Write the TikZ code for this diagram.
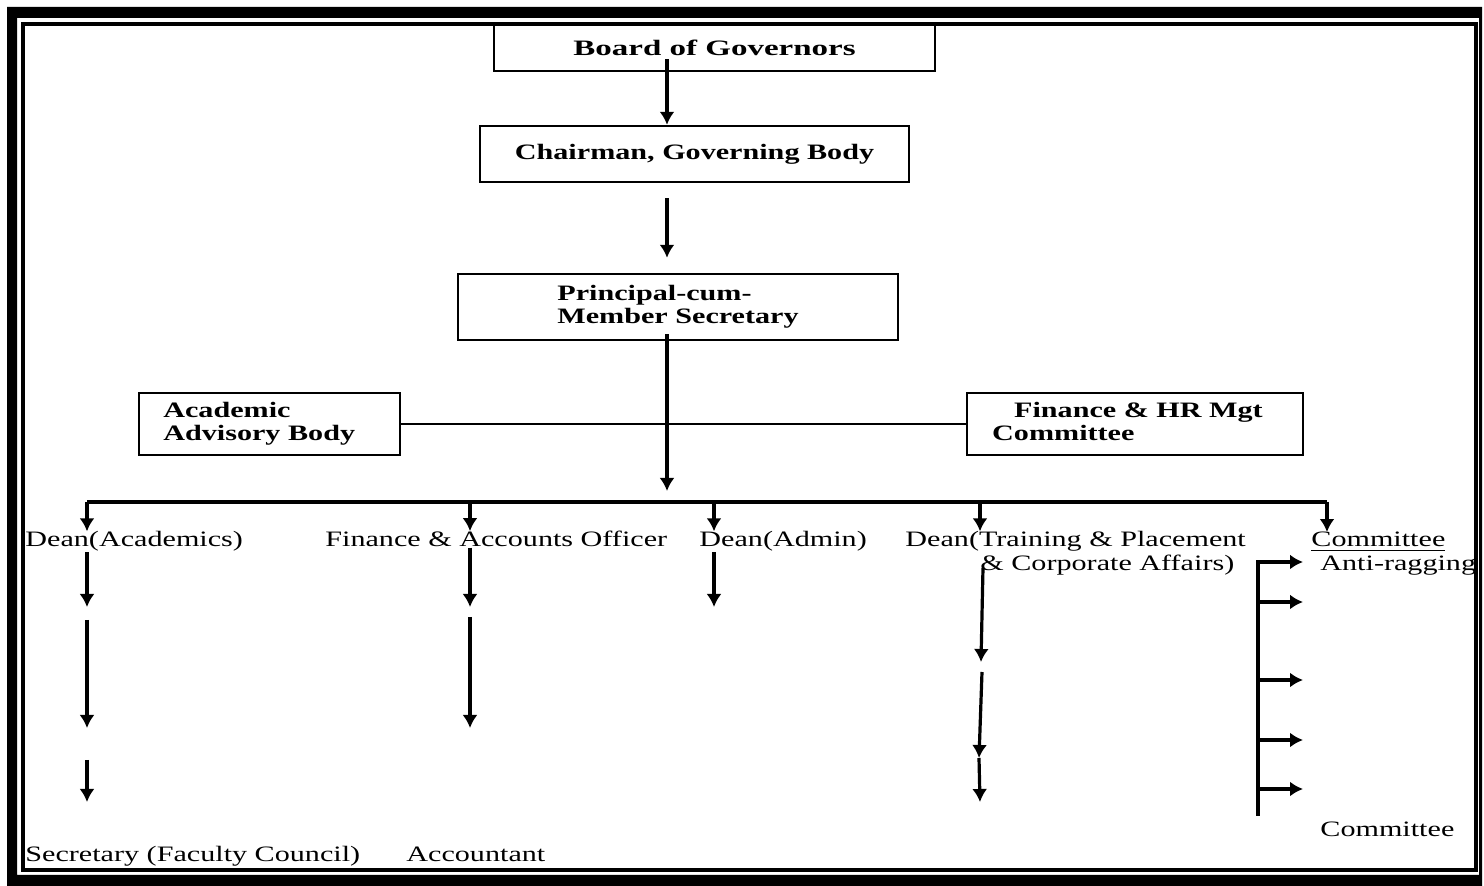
\documentclass[tikz,border=0pt]{standalone}
\usepackage{fontspec}
\setmainfont{Liberation Serif}
\usepackage{graphicx}
\usepackage{tikz}
\usetikzlibrary{arrows.meta,calc,positioning}
\newcommand\stretchx[2][1.37]{\scalebox{#1}[1]{#2}}
\tikzset{>={Latex[length=6.5pt,width=7.5pt]}}
\tikzset{
  box/.style={draw, line width=1.2pt, inner sep=0pt, font=\bfseries\fontsize{11}{11.5}\selectfont},
  lbl/.style={inner sep=0pt, anchor=base west, font=\fontsize{11}{12}\selectfont},
  arr/.style={->, line width=1.6pt},
  link/.style={line width=1.2pt}
}

\begin{document}
\begin{tikzpicture}[x=0.5pt,y=-0.5pt]
\useasboundingbox (0,0) rectangle (1484,886);

% frame
\fill[black, even odd rule] (7,7) rectangle (1482,886) (17,18) rectangle (1479,875);
\draw[line width=1.7pt] (23,24) rectangle (1476,870);

\coordinate (spine) at (667,0);

\node[box, minimum width=220.5pt, minimum height=23pt] (bog) at (714.5,48) {\stretchx[1.5]{Board of Governors}};
\node[box, minimum width=214.5pt, minimum height=28pt] (chair) at (694.5,154) {\stretchx{Chairman, Governing Body}};
\node[box, minimum width=220pt, minimum height=33pt] (prin) at (678,307) {\stretchx{\begin{tabular}{@{}l@{}}Principal-cum-\\Member Secretary\end{tabular}}};
\node[box, minimum width=130.5pt, minimum height=31pt] (aab) at (269.5,424) {\stretchx{\begin{tabular}{@{}l@{}}Academic\\Advisory Body\end{tabular}\hspace*{7.5pt}}};
\node[box, minimum width=168pt, minimum height=31pt] (fhr) at (1135,424) {\stretchx{\begin{tabular}{@{}l@{}}\hspace*{8pt}Finance \& HR Mgt\\Committee\end{tabular}\hspace*{5.5pt}}};

\draw[arr] ($(bog.south -| spine)+(0,-13)$) -- (chair.north -| spine);
\draw[arr, shorten <=7.5pt, shorten >=7.5pt] (chair.south -| spine) -- (prin.north -| spine);

\coordinate (hub) at (667,491);
\draw[arr] ($(prin.south -| hub)+(0,-7)$) -- (hub);
\draw[link] (aab.east) -- (fhr.west);

% second level
\node[lbl] (dac) at (25,547) {\stretchx{Dean(Academics)}};
\node[lbl] (fao) at (325,547) {\stretchx{Finance \& Accounts Officer}};
\node[lbl] (dad) at (699,547) {\stretchx{Dean(Admin)}};
\node[lbl] (dtp) at (905,547) {\stretchx{Dean(Training \& Placement}};
\node[lbl] (dtp-b) at (980,571) {\stretchx{\& Corporate Affairs)}};
\node[lbl] (com) at (1311,547) {\stretchx{\underline{Committee}}};
\node[lbl] (antirag) at (1320,571) {\stretchx{Anti-ragging}};
\node[lbl] (com-b) at (1320,837) {\stretchx{Committee}};
\node[lbl] (sfc) at (25,862) {\stretchx{Secretary (Faculty Council)}};
\node[lbl] (acc) at (406,862) {\stretchx{Accountant}};

\coordinate (busA) at (87,502);
\coordinate (busF) at (470,502);
\coordinate (busD) at (714,502);
\coordinate (busT) at (980,502);
\coordinate (busC) at (1327,502);

\draw[link, line width=1.6pt] (busA) -- (busC);
\draw[arr] (busA) -- (busA |- dac.north);
\draw[arr] (busF) -- (busF |- fao.north);
\draw[arr] (busD) -- (busD |- dad.north);
\draw[arr] (busT) -- (busT |- dtp.north);
\draw[arr] (busC) -- (busC |- com.north);

% Dean(Academics)
\coordinate (A-1) at (87,607);
\coordinate (A-2) at (87,620);
\coordinate (A-3) at (87,728);
\coordinate (A-4) at (87,760);
\coordinate (A-5) at (87,802);
\draw[arr] (dac.south -| A-1) -- (A-1);
\draw[arr] (A-2) -- (A-3);
\draw[arr] (A-4) -- (A-5);

% Finance & Accounts Officer
\coordinate (F-1) at (470,607);
\coordinate (F-2) at (470,617);
\coordinate (F-3) at (470,728);
\draw[arr] (fao.south -| F-1) -- (F-1);
\draw[arr] (F-2) -- (F-3);

% Dean(Admin)
\coordinate (D-1) at (714,607);
\draw[arr] (dad.south -| D-1) -- (D-1);

% Dean(Training & Placement)
\coordinate (T-0) at (983,568);
\coordinate (T-1) at (981,662);
\coordinate (T-2) at (982,672);
\coordinate (T-3) at (979,758);
\coordinate (T-4) at (980,802);
\draw[arr] (T-0) -- (T-1);
\draw[arr] (T-2) -- (T-3);
\draw[arr] (T-3) -- (T-4);

% Committee
\coordinate (K-top) at (1258,562);
\coordinate (K-bot) at (1258,816);
\coordinate (R-1) at (1303,562);
\coordinate (R-2) at (1303,602);
\coordinate (R-3) at (1303,680);
\coordinate (R-4) at (1303,740);
\coordinate (R-5) at (1303,789);
\draw[arr] (K-bot) -- (K-top) -- (R-1);
\draw[arr] (K-top |- R-2) -- (R-2);
\draw[arr] (K-top |- R-3) -- (R-3);
\draw[arr] (K-top |- R-4) -- (R-4);
\draw[arr] (K-top |- R-5) -- (R-5);
\end{tikzpicture}
\end{document}
